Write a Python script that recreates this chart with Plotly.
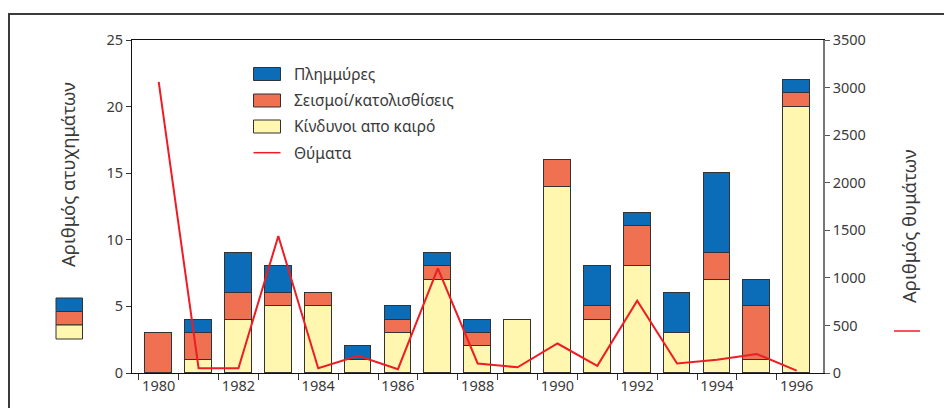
import plotly.graph_objects as go

years = list(range(1980, 1997))
weather = [0, 1, 4, 5, 5, 1, 3, 7, 2, 4, 14, 4, 8, 3, 7, 1, 20]
quakes = [3, 2, 2, 1, 1, 0, 1, 1, 1, 0, 2, 1, 3, 0, 2, 4, 1]
floods = [0, 1, 3, 2, 0, 1, 1, 1, 1, 0, 0, 3, 1, 3, 6, 2, 1]
victims = [3060, 50, 50, 1440, 50, 180, 40, 1100, 100, 60, 310, 75, 760, 100, 140, 200, 25]

label_years = list(range(1980, 1997, 2))
left_ticks = [0, 5, 10, 15, 20, 25]
right_ticks = [0, 500, 1000, 1500, 2000, 2500, 3000, 3500]

names = ["Πλημμύρες", "Σεισμοί/κατολισθίσεις", "Κίνδυνοι απο καιρό", "Θύματα"]
C_BLUE = "#0b6db7"
C_ORANGE = "#f07052"
C_YELLOW = "#fff6b0"
C_RED = "#ee1c25"
OUT = "#333333"
FONT = "Noto Sans"
TXT = "#3a3a3a"

# page body has an 8px margin: figure is drawn from screen (8, 8)
OFF = 8
SW, SH = 952, 408
W, H = SW - OFF, SH - OFF
L, R, T, B = 132, 823, 40, 373  # plot area in screen pixels


def px(x):
    return (x - L) / (R - L)


def py(y):
    return (B - y) / (B - T)


fig = go.Figure()
bw = 0.67
fig.add_trace(go.Bar(x=years, y=weather, name=names[2], width=bw,
                     marker=dict(color=C_YELLOW, line=dict(color=OUT, width=1)), showlegend=False))
fig.add_trace(go.Bar(x=years, y=quakes, name=names[1], width=bw,
                     marker=dict(color=C_ORANGE, line=dict(color=OUT, width=1)), showlegend=False))
fig.add_trace(go.Bar(x=years, y=floods, name=names[0], width=bw,
                     marker=dict(color=C_BLUE, line=dict(color=OUT, width=1)), showlegend=False))
fig.add_trace(go.Scatter(x=years, y=victims, name=names[3], mode="lines", yaxis="y2",
                         line=dict(color=C_RED, width=2), showlegend=False))

shapes = []
annotations = []
# outer frame
shapes.append(dict(type="rect", xref="paper", yref="paper", x0=px(9), x1=px(1000), y0=py(460), y1=py(14),
                   line=dict(color="#3a3a3a", width=2), fillcolor="rgba(0,0,0,0)", layer="below"))
# legend
sw_x0, sw_x1 = 253.5, 280.5
for cy, col, name in [(74, C_BLUE, names[0]), (100.5, C_ORANGE, names[1]), (126.5, C_YELLOW, names[2])]:
    shapes.append(dict(type="rect", xref="paper", yref="paper", x0=px(sw_x0), x1=px(sw_x1),
                       y0=py(cy + 6.5), y1=py(cy - 6.5), fillcolor=col, line=dict(color=OUT, width=1)))
    annotations.append(dict(xref="paper", yref="paper", x=px(292), y=py(cy), text=name, showarrow=False,
                            xanchor="left", yanchor="middle", font=dict(family=FONT, size=15.5, color=TXT)))
shapes.append(dict(type="line", xref="paper", yref="paper", x0=px(sw_x0), x1=px(sw_x1), y0=py(152.7), y1=py(152.7),
                   line=dict(color=C_RED, width=1.5)))
annotations.append(dict(xref="paper", yref="paper", x=px(292), y=py(152.7), text=names[3], showarrow=False,
                        xanchor="left", yanchor="middle", font=dict(family=FONT, size=15.5, color=TXT)))
# mini legend left (stacked swatch)
for y0, y1, col in [(298, 311.5, C_BLUE), (311.5, 325, C_ORANGE), (325, 339, C_YELLOW)]:
    shapes.append(dict(type="rect", xref="paper", yref="paper", x0=px(56), x1=px(82.5),
                       y0=py(y1), y1=py(y0), fillcolor=col, line=dict(color=OUT, width=1)))
# mini legend right (line)
shapes.append(dict(type="line", xref="paper", yref="paper", x0=px(894), x1=px(920), y0=py(331), y1=py(331),
                   line=dict(color=C_RED, width=1.5)))
# axis titles
annotations.append(dict(xref="paper", yref="paper", x=px(67), y=py(175), text="Αριθμός ατυχημάτων",
                        textangle=-90, showarrow=False, xanchor="center", yanchor="middle",
                        font=dict(family=FONT, size=18.5, color=TXT)))
annotations.append(dict(xref="paper", yref="paper", x=px(908), y=py(226), text="Αριθμός θυμάτων",
                        textangle=-90, showarrow=False, xanchor="center", yanchor="middle",
                        font=dict(family=FONT, size=18.5, color=TXT)))

fig.update_layout(
    width=W, height=H,
    margin=dict(l=L - OFF, r=SW - R, t=T - OFF, b=SH - B, pad=0),
    paper_bgcolor="white", plot_bgcolor="white",
    barmode="stack", bargap=0,
    showlegend=False,
    font=dict(family=FONT, size=14.5, color=TXT),
    xaxis=dict(range=[1979.33, 1996.66], tickmode="array", tickvals=label_years,
               ticktext=[str(y) for y in label_years], ticks="", showgrid=False, zeroline=False,
               showline=True, mirror=True, linecolor="#111", linewidth=1,
               tickfont=dict(family=FONT, size=14.5, color=TXT),
               minor=dict(tickmode="array", tickvals=[y + 0.5 for y in range(1979, 1996)],
                          ticks="outside", ticklen=6, tickcolor="#333", tickwidth=1, showgrid=False)),
    yaxis=dict(range=[0, 25], tickmode="array", tickvals=left_ticks, ticks="outside", ticklen=5,
               tickcolor="#333", showgrid=False, zeroline=False, showline=True, linecolor="#111",
               linewidth=1, tickfont=dict(family=FONT, size=14.5, color=TXT)),
    yaxis2=dict(range=[0, 3500], overlaying="y", side="right", tickmode="array", tickvals=right_ticks,
                ticks="outside", ticklen=5, tickcolor="#555", showgrid=False, zeroline=False,
                showline=True, linecolor="#777", linewidth=1.5,
                tickfont=dict(family=FONT, size=14.5, color=TXT)),
    shapes=shapes,
    annotations=annotations,
)

fig.write_html("out.html")
